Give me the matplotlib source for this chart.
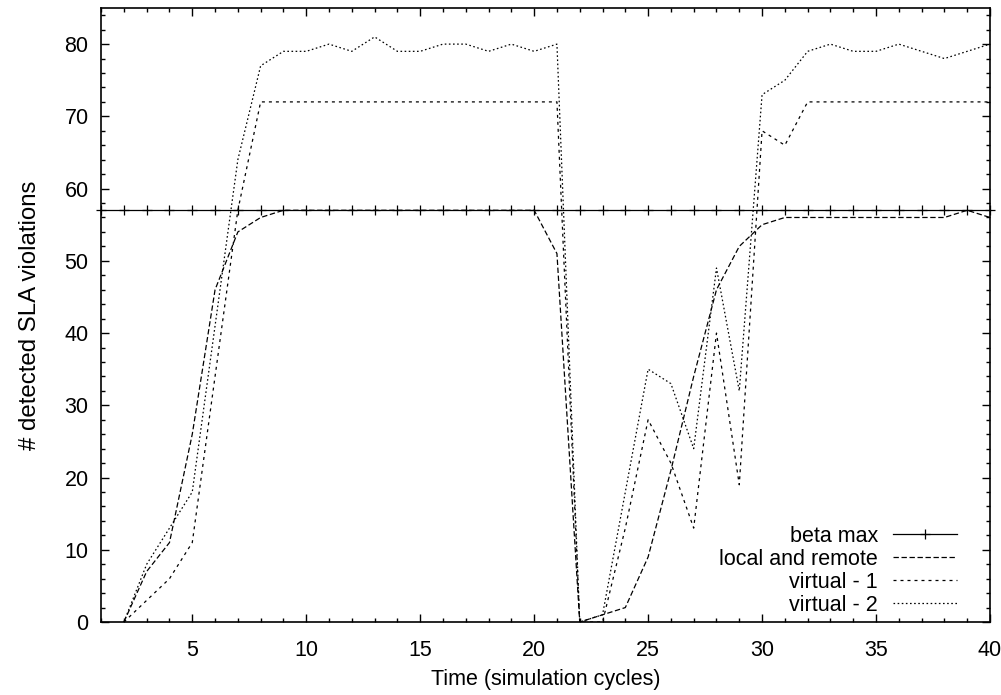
import numpy as np
import matplotlib
matplotlib.use("Agg")
import matplotlib.pyplot as plt
from matplotlib.ticker import MultipleLocator

# ======================================================
# data
# ======================================================
beta_x = list(range(1, 41))
beta_max = [57] * 40

cycles = list(range(2, 41))
local_remote = [0, 7, 11, 26, 46, 54, 56, 57, 57, 57, 57, 57, 57, 57, 57, 57, 57, 57, 57, 51,
                0, 1, 2, 9, 21, 34, 46, 52, 55, 56, 56, 56, 56, 56, 56, 56, 56, 57, 56]
virtual_1 = [0, 3, 6, 11, 34, 57, 72, 72, 72, 72, 72, 72, 72, 72, 72, 72, 72, 72, 72, 72,
             0, 0, 13, 28, 22, 13, 40, 19, 68, 66, 72, 72, 72, 72, 72, 72, 72, 72, 72]
virtual_2 = [0, 8, 13, 18, 41, 64, 77, 79, 79, 80, 79, 81, 79, 79, 80, 80, 79, 80, 79, 80,
             0, 1, 18, 35, 33, 24, 49, 32, 73, 75, 79, 80, 79, 79, 80, 79, 78, 79, 80]

labels = ["beta max", "local and remote", "virtual - 1", "virtual - 2"]

plt.rcParams['font.family'] = ['Liberation Sans', 'DejaVu Sans']
plt.rcParams['font.size'] = 15.5

fig = plt.figure(figsize=(10.01, 6.95), dpi=100)
ax = fig.add_axes([0.101, 0.105, 0.888, 0.8835])

lw = 0.9
ax.plot(beta_x, beta_max, color="black", lw=lw, marker="+", markersize=7,
        markeredgewidth=lw, clip_on=False, label=labels[0])
ax.plot(cycles, local_remote, color="black", lw=lw, linestyle=(0, (4.3, 2.1)),
        label=labels[1])
ax.plot(cycles, virtual_1, color="black", lw=lw, linestyle=(0, (2.4, 3.2)),
        label=labels[2])
ax.plot(cycles, virtual_2, color="black", lw=lw, linestyle=(0, (1.3, 2.0)),
        label=labels[3])

ax.set_xlim(1, 40)
ax.set_ylim(0, 85)
ax.xaxis.set_major_locator(MultipleLocator(5))
ax.xaxis.set_minor_locator(MultipleLocator(1))
ax.yaxis.set_major_locator(MultipleLocator(10))
ax.yaxis.set_minor_locator(MultipleLocator(2))
ax.tick_params(which="both", direction="in", top=True, right=True, width=1.0)
ax.tick_params(axis="x", pad=13)
ax.tick_params(axis="y", pad=9)
ax.tick_params(which="major", length=6)
ax.tick_params(which="minor", length=3)
for s in ax.spines.values():
    s.set_linewidth(1.2)

ax.set_xlabel("Time (simulation cycles)", labelpad=6)
ax.set_ylabel("# detected SLA violations", fontsize=17.3, labelpad=17)

ax.legend(loc="lower right", bbox_to_anchor=(0.956, 0.114), bbox_transform=fig.transFigure,
          frameon=False, markerfirst=False, handlelength=2.97, handletextpad=0.7,
          labelspacing=0.09, borderpad=0, borderaxespad=0)

fig.savefig("out.png", dpi=100)
